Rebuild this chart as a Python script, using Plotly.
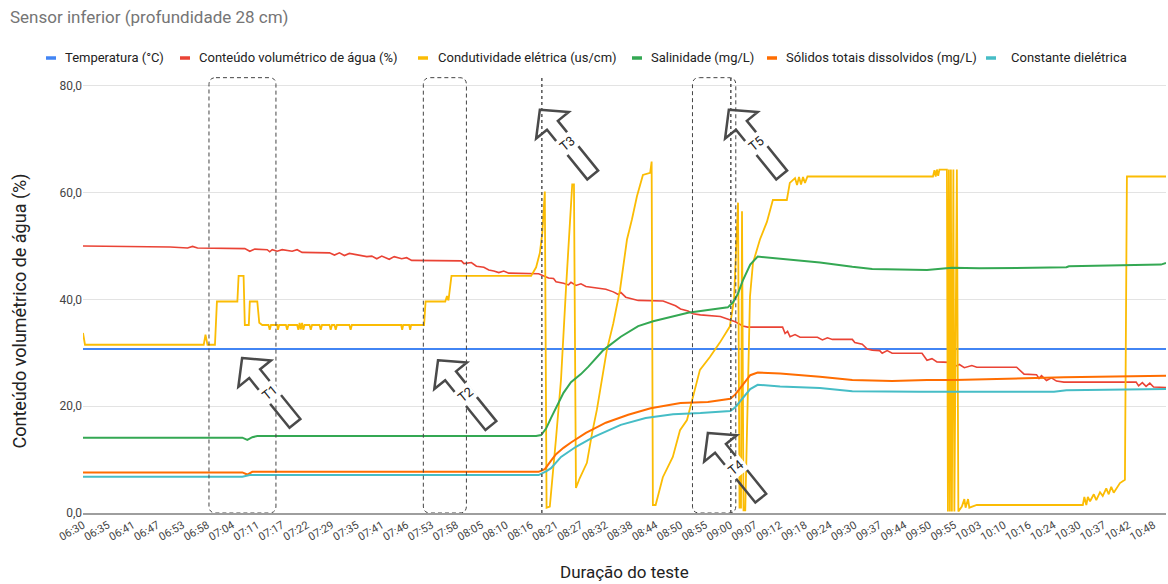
import math
import plotly.graph_objects as go

# ---------------- data ----------------
tick_labels = ["06:30", "06:35", "06:41", "06:47", "06:53", "06:58", "07:04", "07:11", "07:17", "07:22",
               "07:29", "07:35", "07:41", "07:46", "07:53", "07:58", "08:05", "08:10", "08:16", "08:21",
               "08:27", "08:32", "08:38", "08:44", "08:50", "08:55", "09:00", "09:07", "09:12", "09:18",
               "09:24", "09:30", "09:37", "09:44", "09:50", "09:55", "10:03", "10:10", "10:16", "10:24",
               "10:30", "10:37", "10:42", "10:48"]
tick_pos = list(range(len(tick_labels)))

series_names = ["Temperatura (°C)", "Conteúdo volumétrico de água (%)", "Condutividade elétrica (us/cm)",
                "Salinidade (mg/L)", "Sólidos totais dissolvidos (mg/L)", "Constante dielétrica"]
series_colors = ["#4285F4", "#EA4335", "#FBBC04", "#34A853", "#FF6D01", "#46BDC6"]

temp_x = [0, 43.5]
temp_y = [30.7, 30.7]

water_x = [0, 2.0, 3.5, 4.2, 4.4, 4.6, 5.5, 6.5, 6.7, 6.9, 7.4, 7.5, 7.6, 7.8, 8.0, 8.4, 8.6, 8.8, 9.9, 10.1,
           10.3, 10.5, 10.7, 11.1, 11.4, 11.6, 11.8, 12.0, 12.3, 12.5, 12.8, 13.0, 13.2, 15.2, 15.3, 15.6, 15.8,
           16.1, 16.3, 16.5, 16.7, 16.9, 17.1, 18.3, 18.5, 18.7, 18.9, 19.0, 19.3, 19.5, 19.6, 19.8, 20.0, 20.2,
           21.0, 21.3, 21.5, 21.6, 21.8, 22.1, 22.3, 23.3, 23.5, 23.8, 24.0, 24.3, 24.5, 24.8, 25.6, 25.9, 26.2,
           26.5, 26.7, 28.1, 28.2, 28.3, 28.4, 28.6, 28.8, 29.5, 29.7, 29.9, 30.1, 30.9, 31.0, 31.3, 31.5, 31.7,
           32.0, 32.1, 32.3, 32.5, 33.7, 33.9, 34.1, 34.3, 34.8, 35.0, 35.2, 35.4, 35.7, 35.9, 37.5, 37.8, 38.3,
           38.4, 38.5, 38.7, 38.9, 39.1, 39.4, 42.3, 42.4, 42.55, 42.7, 42.85, 43.0, 43.5]
water_y = [50.0, 49.9, 49.8, 49.6, 49.9, 49.6, 49.5, 49.5, 49.0, 49.4, 49.3, 48.9, 49.3, 49.0, 49.3, 49.0, 49.3,
           48.8, 48.7, 48.3, 48.7, 48.2, 48.6, 48.2, 48.0, 48.1, 47.6, 48.1, 47.5, 48.0, 47.6, 47.8, 47.3, 47.2,
           46.7, 46.9, 46.2, 46.0, 45.5, 45.3, 45.0, 45.3, 44.9, 44.8, 44.4, 44.0, 43.9, 43.3, 43.0, 42.7, 43.2,
           42.6, 42.9, 42.4, 41.9, 41.4, 40.9, 41.3, 40.4, 40.0, 39.8, 39.7, 39.3, 38.8, 38.2, 37.8, 37.3, 37.1,
           36.8, 36.3, 35.8, 35.0, 34.8, 34.8, 33.6, 34.0, 33.0, 33.4, 32.9, 32.9, 32.4, 32.8, 32.5, 32.5, 31.9,
           31.6, 30.7, 30.5, 30.4, 29.9, 30.4, 29.9, 29.9, 28.6, 28.9, 28.3, 28.2, 27.4, 27.8, 27.2, 27.6, 27.3,
           27.3, 26.0, 25.9, 25.2, 25.7, 24.8, 25.3, 24.7, 24.5, 24.5, 23.8, 24.4, 23.7, 24.3, 23.6, 23.5]

cond_x = [0, 0.08, 4.85, 4.92, 5.0, 5.3, 5.38, 6.2, 6.25, 6.45, 6.5, 6.66, 6.7, 7.0, 7.08, 7.2,
          7.45, 7.5, 7.55, 7.8, 7.83, 7.88, 8.15, 8.2, 8.25, 8.6, 8.65, 8.7, 8.75, 8.8, 8.85, 8.9, 9.1, 9.15,
          9.2, 9.5, 9.55, 9.6, 9.9, 9.95, 10.0, 10.1, 10.15, 10.2, 10.7, 10.75, 10.8, 12.78, 12.82, 12.86,
          13.1, 13.14, 13.18, 13.7, 13.76, 14.55, 14.62, 14.68, 14.8, 18.0, 18.2, 18.35, 18.45, 18.55, 18.62,
          18.75, 19.0, 19.2, 19.4, 19.55, 19.65, 19.72, 19.8, 19.95, 20.24, 20.45, 20.64, 21.04, 21.3, 21.57,
          21.85, 22.05, 22.25, 22.49, 22.78, 22.84, 22.89, 23.0, 23.29, 23.69, 23.98, 24.26, 24.5, 24.78,
          25.18, 25.58, 25.98, 26.15, 26.31, 26.37, 26.43, 26.47, 26.53, 26.6, 26.79, 26.91, 27.19, 27.47,
          27.71, 28.27, 28.39, 28.6, 28.68, 28.76, 28.84, 28.92, 29.0, 29.1, 34.14, 34.2, 34.25, 34.3, 34.35,
          34.4, 34.7, 34.74, 34.78, 34.82, 34.86, 34.9, 34.96, 35.0, 35.1, 35.16, 35.3, 35.4, 35.45, 35.55,
          35.6, 35.9, 40.16, 40.22, 40.3, 40.36, 40.45, 40.6, 40.7, 40.85, 40.96, 41.1, 41.2, 41.3, 41.4,
          41.65, 41.85, 41.93, 43.5]
cond_y = [33.7, 31.5, 31.5, 33.4, 31.5, 31.5, 39.6, 39.6, 44.4, 44.4, 35.2, 35.2, 39.6, 39.6, 35.6, 35.2,
          35.2, 34.3, 35.2, 35.2, 34.3, 35.2, 35.2, 34.3, 35.2, 35.2, 34.3, 35.6, 34.4, 35.6, 34.3, 35.2, 35.2,
          34.3, 35.2, 35.2, 34.3, 35.2, 35.2, 34.3, 35.2, 35.2, 34.3, 35.2, 35.2, 34.3, 35.2, 35.2, 34.3, 35.2,
          35.2, 34.3, 35.2, 35.2, 39.6, 39.6, 40.6, 39.8, 44.4, 44.4, 46.0, 48.7, 52.5, 60.2, 1.0,
          1.2, 14.0, 25.0, 42.0, 55.0, 61.5, 61.5, 4.7, 6.5, 9.4, 15.0, 19.3, 30.5, 35.5, 41.8,
          51.2, 55.0, 59.3, 63.3, 63.7, 65.8, 1.5, 1.5, 6.7, 10.5, 15.5, 17.4, 21.7, 26.8,
          29.2, 31.9, 34.9, 40.0, 58.1, 1.0, 1.0, 56.5, 0.5, 0.5, 40.5, 46.8, 51.2, 54.5,
          58.6, 58.6, 61.8, 62.7, 61.4, 62.9, 61.5, 62.9, 61.8, 63.0, 63.0, 64.2, 63.0, 64.3, 63.1,
          64.3, 64.3, 0.3, 64.3, 0.3, 64.3, 0.3, 64.3, 0.3, 64.3, 0.3, 1.2, 2.6, 1.0, 2.6,
          1.0, 1.5, 1.5, 3.0, 1.5, 3.0, 2.2, 3.5, 2.4, 3.9, 3.2, 4.6, 3.5, 4.9, 3.8,
          5.6, 6.2, 63.0, 63.0]

sal_x = [0, 6.4, 6.6, 6.8, 7.0, 18.2, 18.4, 18.6, 18.8, 19.0, 19.3, 19.6, 20.0, 20.3, 20.9, 21.6, 22.3, 22.9,
         23.6, 24.3, 25.1, 25.9, 26.1, 26.3, 26.5, 26.8, 27.1, 28.0, 29.6, 30.9, 31.7, 33.9, 34.9, 36.0, 39.5,
         39.6, 43.3, 43.5]
sal_y = [14.1, 14.1, 13.7, 14.2, 14.4, 14.4, 14.6, 15.8, 17.8, 19.8, 22.5, 24.5, 26.0, 27.4, 30.5, 33.0, 35.0,
         35.9, 36.7, 37.5, 38.0, 38.5, 39.4, 41.0, 43.5, 46.5, 48.0, 47.6, 46.9, 46.1, 45.7, 45.5, 45.9, 45.8,
         46.0, 46.2, 46.5, 46.8]

tds_x = [0, 6.4, 6.6, 6.8, 18.3, 18.55, 18.8, 19.0, 19.3, 19.6, 20.2, 21.0, 21.9, 22.8, 24.0, 25.1, 26.0, 26.2,
         26.5, 26.8, 27.1, 28.0, 29.6, 30.9, 32.5, 33.9, 35.0, 39.4, 43.5]
tds_y = [7.6, 7.6, 7.2, 7.7, 7.7, 8.2, 9.8, 11.0, 12.2, 13.2, 15.0, 16.9, 18.4, 19.6, 20.6, 20.8, 21.4, 22.2,
         24.0, 25.8, 26.3, 26.1, 25.5, 24.9, 24.7, 24.9, 24.9, 25.4, 25.7]

diel_x = [0, 6.4, 6.7, 18.3, 18.6, 18.8, 19.2, 19.8, 20.5, 21.6, 22.6, 23.7, 24.8, 26.0, 26.2, 26.5, 26.8, 27.1,
          28.0, 29.6, 30.9, 33.6, 39.0, 39.5, 43.5]
diel_y = [6.8, 6.8, 7.1, 7.1, 7.8, 8.4, 10.5, 12.4, 14.2, 16.5, 17.8, 18.5, 18.7, 19.1, 19.8, 21.5, 23.2, 24.0,
          23.7, 23.4, 22.8, 22.7, 22.7, 23.0, 23.2]

y_ticks = [0, 20, 40, 60, 80]
y_tick_text = ["0,0", "20,0", "40,0", "60,0", "80,0"]

# annotation marks (in axis units)
box_spans = [(5.06, 7.75), (13.67, 15.4), (24.48, 26.22)]
dotted_lines = [18.43, 26.02]
arrow_labels = ["T1", "T2", "T3", "T4", "T5"]
arrow_tips = [(6.39, 29.0), (14.26, 28.6), (18.35, 75.5), (25.1, 15.0), (25.94, 75.5)]

# ---------------- layout geometry ----------------
W, H = 1168, 584
ML, MR, MT, MB = 83, 2, 75, 71
X_RANGE = [0, 43.5]
Y_RANGE = [0, 82]
PW = W - ML - MR
PH = H - MT - MB
PXX = PW / (X_RANGE[1] - X_RANGE[0])
PXY = PH / (Y_RANGE[1] - Y_RANGE[0])
BOX_TOP = 81.5
FONT = "Roboto, Arial, sans-serif"

fig = go.Figure()
xs = [temp_x, water_x, cond_x, sal_x, tds_x, diel_x]
ys = [temp_y, water_y, cond_y, sal_y, tds_y, diel_y]
widths = [2, 1.6, 1.8, 2, 2, 2]
for name, color, x, y, w in zip(series_names, series_colors, xs, ys, widths):
    fig.add_trace(go.Scatter(x=x, y=y, mode="lines", name=name,
                             line=dict(color=color, width=w), showlegend=False))

shapes = []
annotations = []


def rounded_box(x0, x1, y0, y1, r=7):
    rx, ry = r / PXX, r / PXY
    return (f"M {x0+rx},{y1} L {x1-rx},{y1} Q {x1},{y1} {x1},{y1-ry} "
            f"L {x1},{y0+ry} Q {x1},{y0} {x1-rx},{y0} L {x0+rx},{y0} "
            f"Q {x0},{y0} {x0},{y0+ry} L {x0},{y1-ry} Q {x0},{y1} {x0+rx},{y1} Z")


for x0, x1 in box_spans:
    shapes.append(dict(type="path", xref="x", yref="y", path=rounded_box(x0, x1, 0, BOX_TOP),
                       line=dict(color="#444444", width=1, dash="4px,3px"), layer="above"))
for xv in dotted_lines:
    shapes.append(dict(type="line", xref="x", yref="y", x0=xv, x1=xv, y0=0, y1=BOX_TOP,
                       line=dict(color="#555555", width=1.5, dash="dot"), layer="above"))

ANG = math.radians(51)
ux, uy = math.cos(ANG), math.sin(ANG)
vx, vy = uy, -ux
L_, HL, HW, SW = 84, 20, 21, 7
outline = [(0, 0), (HL, HW), (HL, SW), (L_, SW), (L_, -SW), (HL, -SW), (HL, -HW)]
for label, (tx, ty) in zip(arrow_labels, arrow_tips):
    pts = []
    for a, b in outline:
        dx = a * ux + b * vx
        dy = a * uy + b * vy
        pts.append((tx + dx / PXX, ty - dy / PXY))
    path = "M " + " L ".join(f"{px:.4f},{py:.4f}" for px, py in pts) + " Z"
    shapes.append(dict(type="path", xref="x", yref="y", path=path,
                       line=dict(color="#4a4a4a", width=2.5), layer="above"))
    cx = tx + 44 * ux / PXX
    cy = ty - 44 * uy / PXY
    annotations.append(dict(x=cx, y=cy, xref="x", yref="y", text=label, showarrow=False,
                            textangle=-39, bgcolor="white", borderpad=1,
                            font=dict(family=FONT, size=13, color="#222222")))

# custom legend
leg_sym_px = [46, 180, 418, 632, 767, 986]
leg_txt_px = [63, 197, 436, 649, 784, 1009]
leg_y = (MT + PH - 58) / PH
for name, color, sx, tx in zip(series_names, series_colors, leg_sym_px, leg_txt_px):
    shapes.append(dict(type="line", xref="paper", yref="paper",
                       x0=(sx - ML) / PW, x1=(sx + 10 - ML) / PW, y0=leg_y, y1=leg_y,
                       line=dict(color=color, width=3.5)))
    annotations.append(dict(x=(tx - ML) / PW, y=leg_y, xref="paper", yref="paper", text=name,
                            showarrow=False, xanchor="left", yanchor="middle",
                            font=dict(family=FONT, size=13, color="#222222")))

# axis titles
annotations.append(dict(x=0.5, y=(MT + PH - 572) / PH, xref="paper", yref="paper",
                        text="Duração do teste", showarrow=False, xanchor="center", yanchor="middle",
                        font=dict(family=FONT, size=17, color="#222222")))
annotations.append(dict(x=(19.5 - ML) / PW, y=(MT + PH - 311) / PH, xref="paper", yref="paper",
                        text="Conteúdo volumétrico de água (%)", showarrow=False, textangle=-90,
                        xanchor="center", yanchor="middle",
                        font=dict(family=FONT, size=18, color="#222222")))

fig.update_layout(
    width=W, height=H,
    margin=dict(l=ML, r=MR, t=MT, b=MB),
    paper_bgcolor="white", plot_bgcolor="white",
    font=dict(family=FONT, color="#444444"),
    title=dict(text="Sensor inferior (profundidade 28 cm)", x=10 / W, xanchor="left", xref="container",
               y=1 - 17 / H, yanchor="middle", yref="container",
               font=dict(family=FONT, size=17, color="#757575")),
    showlegend=False,
    shapes=shapes,
    annotations=annotations,
)
fig.update_xaxes(range=X_RANGE, tickvals=tick_pos, ticktext=tick_labels, tickangle=-30,
                 tickfont=dict(size=11, color="#444444"), showgrid=False, zeroline=False,
                 showline=True, linecolor="#9e9e9e", linewidth=1.5, ticks="")
fig.update_yaxes(range=Y_RANGE, tickvals=y_ticks, ticktext=y_tick_text,
                 tickfont=dict(size=12, color="#444444"), showgrid=True, gridcolor="#e3e3e3",
                 gridwidth=1, zeroline=False, ticks="")

fig.write_html("out.html")
